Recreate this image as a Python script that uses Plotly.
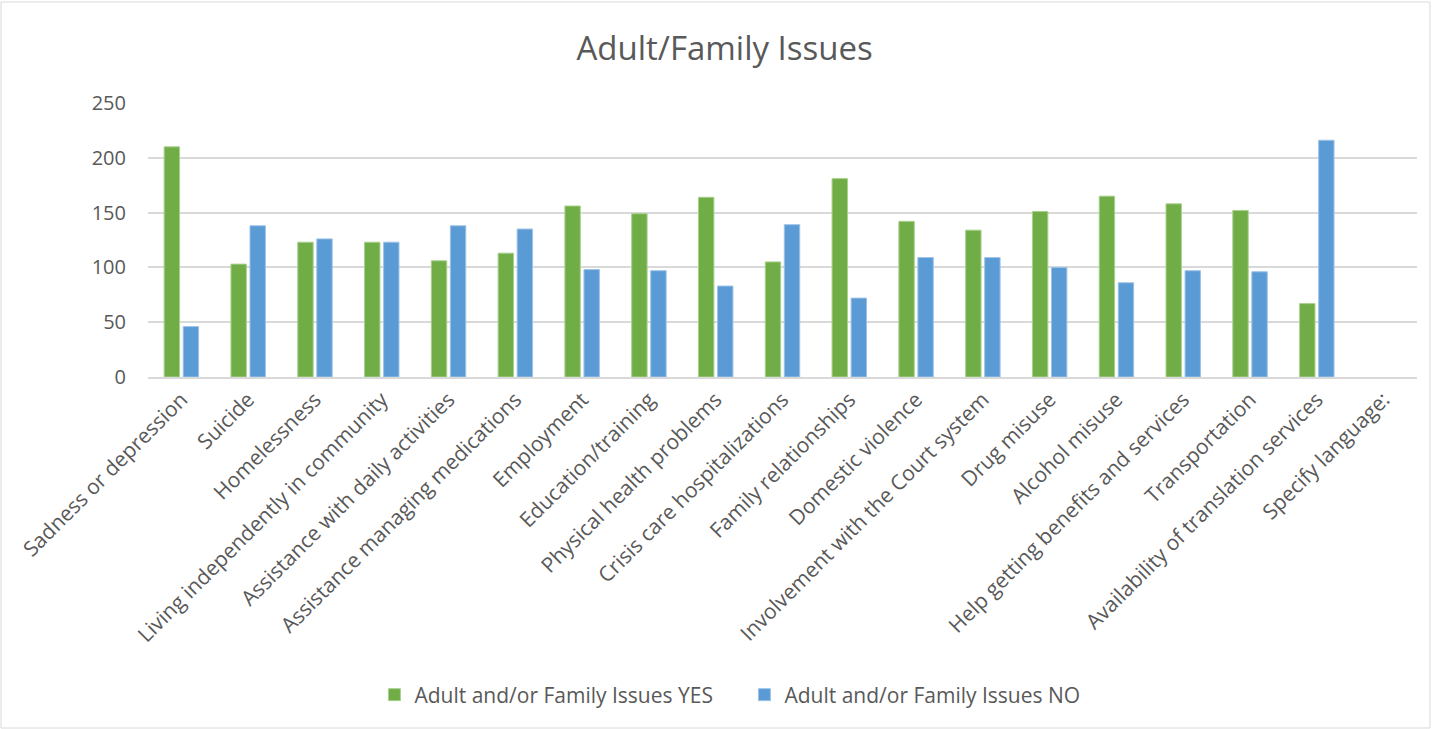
import plotly.graph_objects as go

categories = [
    "Sadness or depression", "Suicide", "Homelessness",
    "Living independently in community", "Assistance with daily activities",
    "Assistance managing medications", "Employment", "Education/training",
    "Physical health problems", "Crisis care hospitalizations",
    "Family relationships", "Domestic violence",
    "Involvement with the Court system", "Drug misuse", "Alcohol misuse",
    "Help getting benefits and services", "Transportation",
    "Availability of translation services", "Specify language:",
]
yes_values = [210, 103, 123, 123, 106, 113, 156, 149, 164, 105, 181, 142,
              134, 151, 165, 158, 152, 67, None]
no_values = [46, 138, 126, 123, 138, 135, 98, 97, 83, 139, 72, 109,
             109, 100, 86, 97, 96, 216, None]

W, H = 1432, 729
ML, MR, MT, MB = 148, 15, 103, 352
TEXT = "#595959"
FONT = "'Open Sans', sans-serif"

fig = go.Figure()
fig.add_trace(go.Bar(
    x=categories, y=yes_values, name="Adult and/or Family Issues YES",
    marker=dict(color="#70AD47", line=dict(color="#A9D18E", width=1)),
))
fig.add_trace(go.Bar(
    x=categories, y=no_values, name="Adult and/or Family Issues NO",
    marker=dict(color="#5B9BD5", line=dict(color="#9DC3E6", width=1)),
))

pw = W - ML - MR
ph = H - MT - MB
# thin chart frame around the whole figure
fig.add_shape(
    type="rect", xref="paper", yref="paper",
    x0=-(ML - 1) / pw, x1=(pw + MR - 2) / pw,
    y0=-(MB - 1) / ph, y1=(ph + MT - 2) / ph,
    line=dict(color="#D9D9D9", width=1), layer="below",
)

fig.update_layout(
    width=W, height=H,
    margin=dict(l=ML, r=MR, t=MT, b=MB),
    paper_bgcolor="white", plot_bgcolor="white",
    font=dict(family=FONT, color=TEXT, size=20),
    title=dict(text="Adult/Family Issues", x=0.506, xanchor="center",
               y=1 - 48 / H, yanchor="middle",
               font=dict(size=33, color=TEXT, family=FONT)),
    barmode="group", bargap=0.43, bargroupgap=0.19,
    showlegend=True,
    legend=dict(orientation="h", x=0.47, xanchor="center",
                y=-(695 - 377) / ph, yanchor="middle",
                font=dict(size=21, color=TEXT, family=FONT),
                itemwidth=30, entrywidth=325,
                traceorder="normal"),
    xaxis=dict(tickangle=-45, showgrid=False, showline=True,
               linecolor="#D9D9D9", linewidth=2, ticks="",
               tickfont=dict(size=21, color=TEXT, family=FONT)),
    yaxis=dict(range=[0, 250], dtick=50, showgrid=True, gridcolor="#D9D9D9",
               gridwidth=2, zeroline=False, showline=False, ticks="",
               ticklabelstandoff=21,
               tickfont=dict(size=20, color=TEXT, family=FONT)),
)

fig.write_html("out.html")
